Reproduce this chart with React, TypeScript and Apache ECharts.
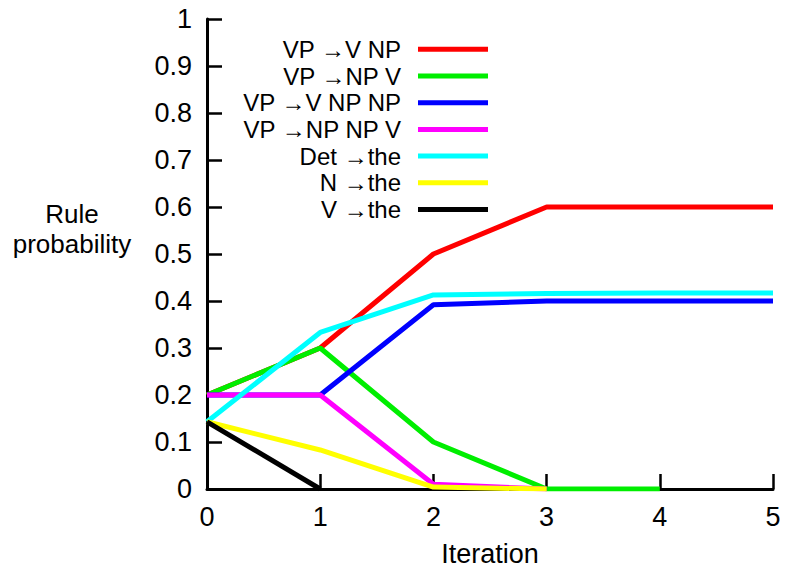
import React, { useEffect, useRef } from "react";
import * as echarts from "echarts";

const iterations = ["0", "1", "2", "3", "4", "5"];
const seriesNames = [
  "VP →V NP",
  "VP →NP V",
  "VP →V NP NP",
  "VP →NP NP V",
  "Det →the",
  "N →the",
  "V →the",
];
const seriesColors = ["#ff0000", "#00ee00", "#0000ff", "#ff00ff", "#00ffff", "#ffff00", "#000000"];
const vpVNp = [0.2, 0.3, 0.5, 0.6, 0.6, 0.6];
const vpNpV = [0.2, 0.3, 0.1, 0.0, 0.0];
const vpVNpNp = [0.2, 0.2, 0.392, 0.4, 0.4, 0.4];
const vpNpNpV = [0.2, 0.2, 0.01, 0.0];
const detThe = [0.143, 0.333, 0.413, 0.416, 0.417, 0.417];
const nThe = [0.143, 0.083, 0.004, 0.0];
const vThe = [0.143, 0.0];
const seriesValues = [vpVNp, vpNpV, vpVNpNp, vpNpNpV, detThe, nThe, vThe];
const yTicks = [0, 0.1, 0.2, 0.3, 0.4, 0.5, 0.6, 0.7, 0.8, 0.9, 1];

const FONT = "Liberation Sans";
const FS = 27;
const LEGEND_FS = 24;

export default function App() {
  const ref = useRef<HTMLDivElement>(null);
  useEffect(() => {
    if (!ref.current) return;
    const chart = echarts.init(ref.current, null, { renderer: "svg" });
    const legends = seriesNames.map((name, i) => ({
      data: [name],
      orient: "vertical",
      align: "right",
      right: 299,
      top: 49.3 + i * 26.7 - 13,
      itemWidth: 70,
      itemHeight: 5,
      itemGap: 0,
      icon: "rect",
      padding: 0,
      textStyle: {
        fontFamily: FONT,
        fontSize: LEGEND_FS,
        lineHeight: 26,
        color: "#000",
        padding: [0, 12, 0, 0],
      },
    }));
    chart.setOption({
      animation: false,
      backgroundColor: "#fff",
      grid: { left: 207, right: 14, top: 19, bottom: 79, outerBoundsMode: "none", containLabel: false },
      legend: legends,
      graphic: [
        {
          type: "text",
          x: 72,
          y: 229,
          style: {
            text: "Rule\nprobability",
            fontFamily: FONT,
            fontSize: 26,
            lineHeight: 30,
            align: "center",
            verticalAlign: "middle",
            fill: "#000",
          },
        },
      ],
      xAxis: {
        type: "value",
        min: 0,
        max: 5,
        interval: 1,
        name: "Iteration",
        nameLocation: "middle",
        nameGap: 52,
        nameTextStyle: { fontFamily: FONT, fontSize: FS, lineHeight: 26, color: "#000" },
        axisLine: { lineStyle: { color: "#000", width: 3 } },
        axisTick: { inside: true, length: 15, lineStyle: { color: "#000", width: 2.5 } },
        axisLabel: {
          fontFamily: FONT,
          fontSize: FS,
          color: "#000",
          margin: 14,
          formatter: (v: number) => iterations[Math.round(v)] ?? String(v),
        },
        splitLine: { show: false },
      },
      yAxis: {
        type: "value",
        min: 0,
        max: 1,
        interval: 0.1,
        axisLine: { show: true, lineStyle: { color: "#000", width: 3 } },
        axisTick: { show: true, inside: true, length: 15, lineStyle: { color: "#000", width: 2.5 } },
        axisLabel: {
          fontFamily: FONT,
          fontSize: FS,
          color: "#000",
          margin: 15,
          formatter: (v: number) => {
            const t = yTicks.find((y) => Math.abs(y - v) < 1e-6);
            return t === undefined ? "" : String(t);
          },
        },
        splitLine: { show: false },
      },
      series: seriesNames.map((name, i) => ({
        name,
        type: "line",
        data: seriesValues[i].map((v, j) => [j, v]),
        showSymbol: false,
        symbol: "none",
        lineStyle: { color: seriesColors[i], width: 5 },
        itemStyle: { color: seriesColors[i] },
        z: 2 + i,
      })),
    });
    return () => chart.dispose();
  }, []);
  return <div ref={ref} style={{ width: 787, height: 568, position: "absolute", left: 0, top: 0 }} />;
}
